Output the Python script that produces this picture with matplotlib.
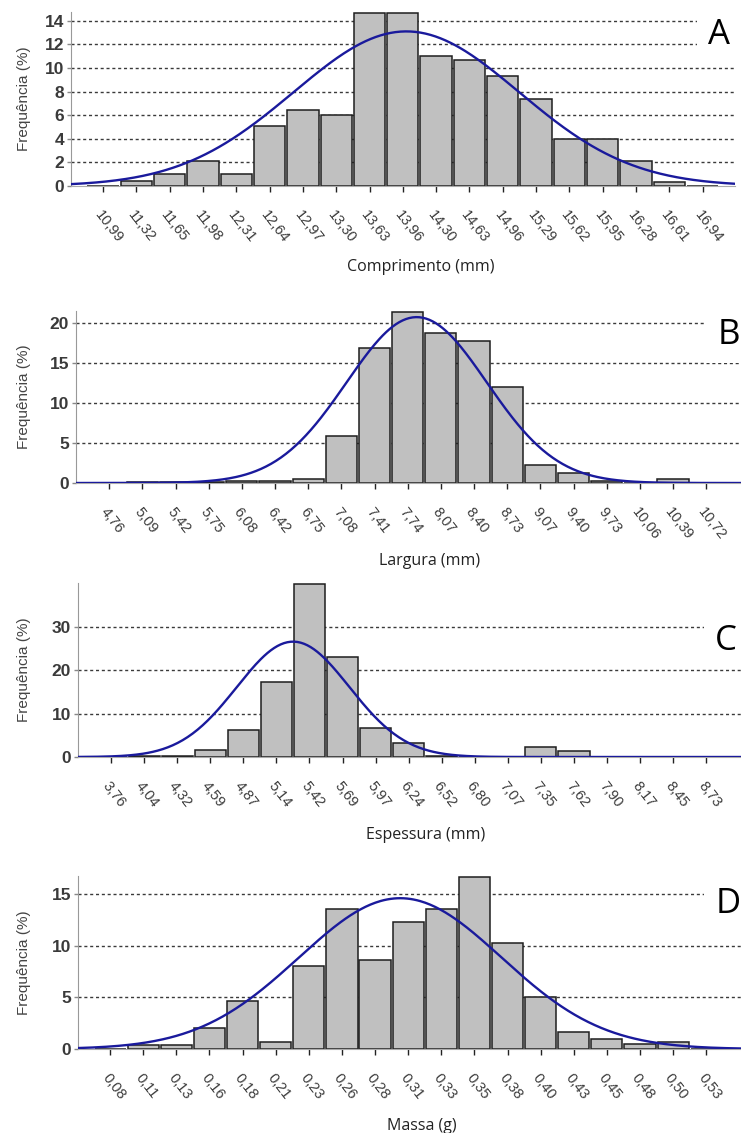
import numpy as np
import matplotlib
matplotlib.use('Agg')
import matplotlib.pyplot as plt
from matplotlib.transforms import ScaledTranslation

# class midpoints (as printed) and frequencies (%) for each panel
a_ticks = ['10,99', '11,32', '11,65', '11,98', '12,31', '12,64', '12,97', '13,30', '13,63', '13,96',
           '14,30', '14,63', '14,96', '15,29', '15,62', '15,95', '16,28', '16,61', '16,94']
a_freq = [0, 0.4, 1.05, 2.1, 1.05, 5.05, 6.4, 6.0, 14.7, 14.7, 11.0, 10.7, 9.35, 7.4, 4.0, 4.0, 2.1, 0.3, 0]
a_fit = (14.0, 1.12, 13.1)  # mean, sd, peak of fitted normal curve

b_ticks = ['4,76', '5,09', '5,42', '5,75', '6,08', '6,42', '6,75', '7,08', '7,41', '7,74',
           '8,07', '8,40', '8,73', '9,07', '9,40', '9,73', '10,06', '10,39', '10,72']
b_freq = [0, 0.15, 0.15, 0.15, 0.2, 0.2, 0.5, 5.9, 16.8, 21.4, 18.7, 17.7, 12.0, 2.3, 1.25, 0.2, 0, 0.5, 0]
b_fit = (7.83, 0.70, 20.7)

c_ticks = ['3,76', '4,04', '4,32', '4,59', '4,87', '5,14', '5,42', '5,69', '5,97', '6,24',
           '6,52', '6,80', '7,07', '7,35', '7,62', '7,90', '8,17', '8,45', '8,73']
c_freq = [0, 0.2, 0.2, 1.5, 6.3, 17.2, 40.0, 23.0, 6.7, 3.2, 0.3, 0, 0, 2.2, 1.3, 0, 0, 0, 0]
c_fit = (5.28, 0.47, 26.6)

d_ticks = ['0,08', '0,11', '0,13', '0,16', '0,18', '0,21', '0,23', '0,26', '0,28', '0,31',
           '0,33', '0,35', '0,38', '0,40', '0,43', '0,45', '0,48', '0,50', '0,53']
d_freq = [0, 0.35, 0.35, 2.0, 4.6, 0.7, 8.0, 13.6, 8.6, 12.3, 13.6, 16.7, 10.3, 5.0, 1.6, 1.0, 0.45, 0.7, 0]
d_fit = (0.299, 0.0765, 14.6)

panels = [
    dict(ticks=a_ticks, freq=a_freq, fit=a_fit, yt=[0, 2, 4, 6, 8, 10, 12, 14],
         xlabel='Comprimento (mm)', letter='A',
         rect=(71, 12, 735, 186), pad=(0.96, 0.97), lpos=(421, 267), cpos=(719, 35)),
    dict(ticks=b_ticks, freq=b_freq, fit=b_fit, yt=[0, 5, 10, 15, 20],
         xlabel='Largura (mm)', letter='B',
         rect=(76, 311, 741, 483), pad=(1.0, 1.05), lpos=(430, 561), cpos=(729, 335)),
    dict(ticks=c_ticks, freq=c_freq, fit=c_fit, yt=[0, 10, 20, 30],
         xlabel='Espessura (mm)', letter='C',
         rect=(78, 583, 741, 757), pad=(1.0, 1.05), lpos=(426, 835), cpos=(726, 641)),
    dict(ticks=d_ticks, freq=d_freq, fit=d_fit, yt=[0, 5, 10, 15],
         xlabel='Massa (g)', letter='D',
         rect=(78, 876, 741, 1049), pad=(0.97, 1.05), lpos=(422, 1126), cpos=(728, 904)),
]

W, H = 741, 1133
fig = plt.figure(figsize=(W / 100, H / 100), dpi=100)
narrow = ['Liberation Sans Narrow', 'Liberation Sans', 'DejaVu Sans']
sans = ['Liberation Sans', 'DejaVu Sans']
label_font = ['Open Sans', 'DejaVu Sans']

for p in panels:
    l, t, r, b = p['rect']
    ax = fig.add_axes([l / W, 1 - b / H, (r - l) / W, (b - t) / H])
    first = float(p['ticks'][0].replace(',', '.'))
    last = float(p['ticks'][-1].replace(',', '.'))
    x = np.linspace(first, last, len(p['ticks']))
    step = x[1] - x[0]
    xmin, xmax = first - p['pad'][0] * step, last + p['pad'][1] * step

    for yv in p['yt'][1:]:
        ax.axhline(yv, color='#3a3a3a', lw=1.0, ls=(0, (2.2, 2.0)), zorder=1)

    ax.bar(x, p['freq'], width=step * 0.94, color='#c0c0c0', edgecolor='#1e1e1e',
           linewidth=1.1, zorder=2)

    mu, sd, peak = p['fit']
    xs = np.linspace(xmin, xmax, 400)
    ax.plot(xs, peak * np.exp(-0.5 * ((xs - mu) / sd) ** 2), color='#1a1a9c', lw=1.7, zorder=3)

    ax.set_xlim(xmin, xmax)
    ax.set_ylim(0, max(p['freq']) * 1.003)
    ax.set_yticks(p['yt'])
    ax.set_xticks(x)
    ax.set_xticklabels(p['ticks'], rotation=-52, ha='left', va='top', rotation_mode='anchor',
                       family=sans, fontsize=10.5, color='#3c3c3c')
    for lab in ax.get_xticklabels():
        lab.set_transform(lab.get_transform() + ScaledTranslation(8 / 100, 0, fig.dpi_scale_trans))
    for lab in ax.get_yticklabels():
        lab.set_family(narrow)
        lab.set_fontsize(12.5)
        lab.set_weight('bold')
        lab.set_color('#3a3a3a')
    ax.tick_params(axis='x', length=4, width=1, color='#222222', pad=12)
    ax.tick_params(axis='y', length=3, width=1, color='#888888', pad=2)
    for s in ['top', 'right']:
        ax.spines[s].set_visible(False)
    ax.spines['left'].set_color('#999999')
    ax.spines['bottom'].set_color('#aaaaaa')

    fig.text(24 / W, 1 - (t + b) / 2 / H, 'Frequência (%)', rotation=90, ha='center', va='center',
             family=sans, fontsize=11, color='#444444')
    fig.text(p['lpos'][0] / W, 1 - p['lpos'][1] / H, p['xlabel'], ha='center', va='center',
             family=label_font, fontsize=11.5, color='#222222')
    fig.text(p['cpos'][0] / W, 1 - p['cpos'][1] / H, p['letter'], ha='center', va='center',
             family=label_font, fontsize=25, color='black', zorder=5,
             bbox=dict(boxstyle='square,pad=0.33', fc='white', ec='none'))

fig.savefig('out.png', dpi=100)
